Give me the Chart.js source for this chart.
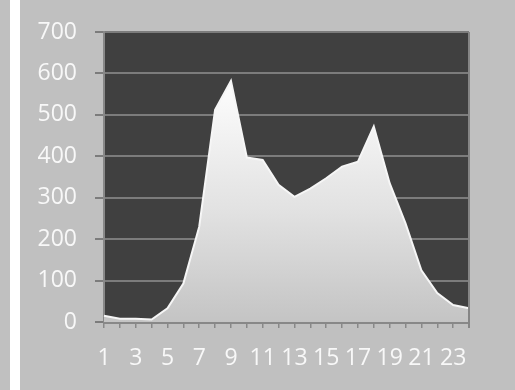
<!DOCTYPE html>
<html>
<head>
<meta charset="utf-8">
<script src="https://cdn.jsdelivr.net/npm/chart.js@4"></script>
<style>
  html, body { margin: 0; padding: 0; background: #c0c0c0; }
  #wrap { position: relative; width: 515px; height: 390px; overflow: hidden; }
  #stripe { position: absolute; left: 10px; top: 0; width: 10px; height: 390px; background: #ffffff; }
  #chart { position: absolute; left: 0; top: 0; }
</style>
</head>
<body>
<div id="wrap">
  <div id="stripe"></div>
  <canvas id="chart" width="515" height="390"></canvas>
</div>
<script>
// ── DATA ────────────────────────────────────────────────────
const hours  = ['1','2','3','4','5','6','7','8','9','10','11','12',
                '13','14','15','16','17','18','19','20','21','22','23','24'];
const counts = [15, 8, 8, 6, 33, 93, 230, 512, 582, 397, 391, 331,
                302, 322, 347, 375, 387, 472, 335, 238, 125, 70, 41, 33];
const yMax  = 700;
const yStep = 100;

// ── PLOT BACKGROUND ─────────────────────────────────────────
const plotBg = {
  id: 'plotBg',
  beforeDraw(chart) {
    const { ctx, chartArea: a } = chart;
    ctx.save();
    ctx.fillStyle = '#404040';
    ctx.fillRect(a.left, a.top, a.right - a.left, a.bottom - a.top);
    ctx.restore();
  },
  afterDraw(chart) {
    const { ctx, chartArea: a } = chart;
    ctx.save();
    ctx.strokeStyle = '#858585';
    ctx.lineWidth = 2;
    ctx.beginPath();
    ctx.moveTo(a.right, a.top);
    ctx.lineTo(a.right, a.bottom + 6);
    ctx.stroke();
    ctx.restore();
  }
};

function areaFill(context) {
  const { ctx, chartArea } = context.chart;
  if (!chartArea) return '#e0e0e0';
  const g = ctx.createLinearGradient(0, chartArea.top + 40, 0, chartArea.bottom);
  g.addColorStop(0, '#ffffff');
  g.addColorStop(0.55, '#e2e2e2');
  g.addColorStop(1, '#c4c4c4');
  return g;
}

const font = { family: "'Open Sans', sans-serif", size: 23 };

new Chart(document.getElementById('chart'), {
  type: 'line',
  data: {
    labels: hours,
    datasets: [{
      data: counts,
      fill: 'origin',
      backgroundColor: areaFill,
      borderColor: '#f6f6f6',
      borderWidth: 2,
      pointRadius: 0,
      tension: 0
    }]
  },
  options: {
    responsive: false,
    animation: false,
    layout: { padding: { left: 20, top: 32, right: 46, bottom: 0 } },
    plugins: { legend: { display: false }, tooltip: { enabled: false } },
    scales: {
      x: {
        offset: false,
        grid: { drawOnChartArea: false, color: '#888888', tickLength: 6, lineWidth: 1.5 },
        border: { color: '#888888', width: 3 },
        ticks: {
          autoSkip: false,
          maxRotation: 0,
          padding: 17,
          color: '#f8f8f8',
          font: font,
          callback(v, i) { return i % 2 === 0 ? this.getLabelForValue(v) : ''; }
        },
        afterFit(s) { s.height = 68; }
      },
      y: {
        min: 0,
        max: yMax,
        grid: { color: '#7c7c7c', lineWidth: 2, tickLength: 9 },
        border: { color: '#888888', width: 2 },
        ticks: { stepSize: yStep, padding: 18, color: '#f8f8f8', font: font },
        afterFit(s) { s.width = 84; }
      }
    }
  },
  plugins: [plotBg]
});
</script>
</body>
</html>
